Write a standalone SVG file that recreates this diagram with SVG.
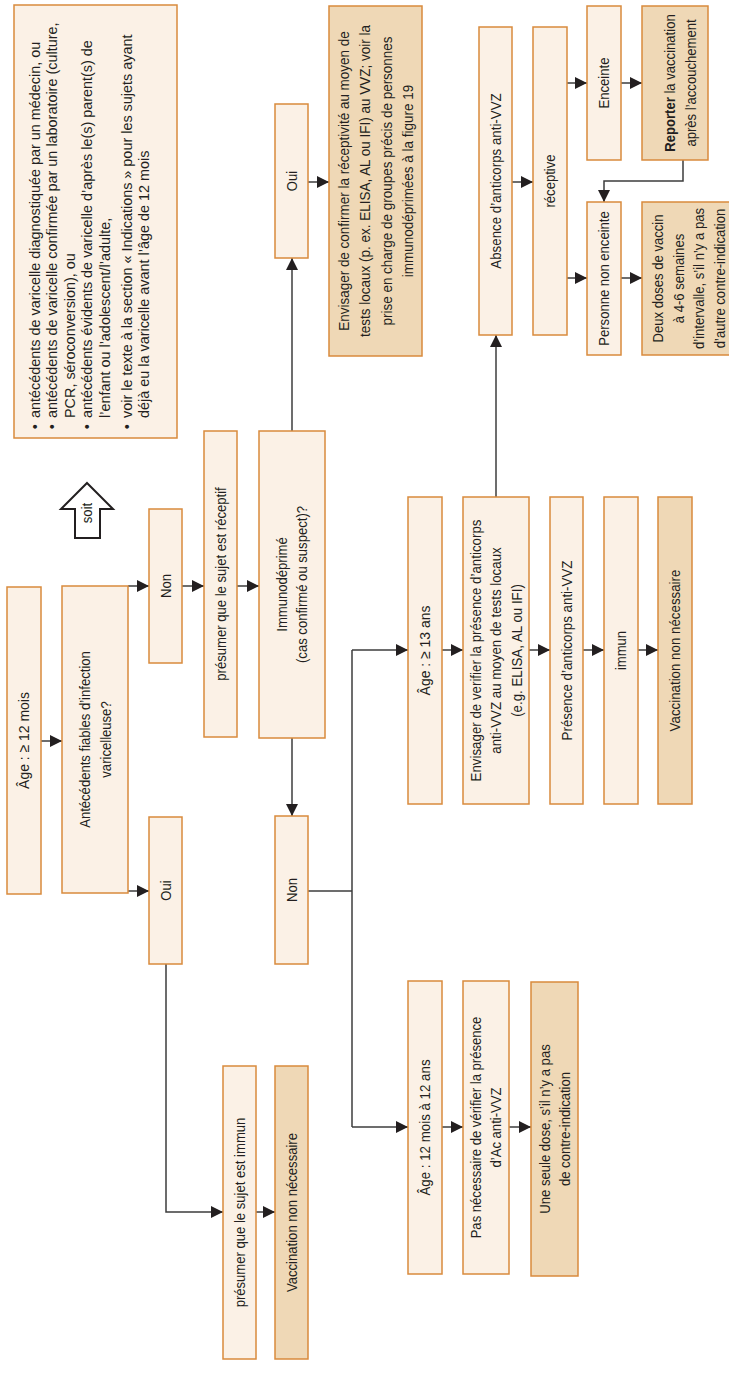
<svg xmlns="http://www.w3.org/2000/svg" width="729" height="1388" viewBox="0 0 729 1388">
<style>
.bl{fill:#FBF1E6;stroke:#D98A3D;stroke-width:1.5}
.bd{fill:#EFD8B6;stroke:#D98A3D;stroke-width:1.5}
.t{font-family:"Liberation Sans",Arial,sans-serif;font-size:15.5px;fill:#231F20;text-anchor:middle}
.n{font-family:"Liberation Sans",Arial,sans-serif;font-size:15.5px;fill:#231F20}
.c{fill:none;stroke:#3C3C3C;stroke-width:1.5}
.a{marker-end:url(#ah)}
</style>
<defs>
<marker id="ah" markerUnits="userSpaceOnUse" viewBox="0 0 12 12" markerWidth="12" markerHeight="12" refX="12" refY="6" orient="auto">
<path d="M0,0 L12,6 L0,12 z" fill="#231F20"/>
</marker>
</defs>
<rect width="729" height="1388" fill="#FFFFFF"/>

<g id="note">
<rect class="bl" x="14" y="5" width="163" height="433"/>
<g transform="translate(0,418) rotate(-90) scale(0.93,1)">
<text class="n" x="-12" y="40">•</text>
<text class="n" x="0" y="40">antécédents de varicelle diagnostiquée par un médecin, ou</text>
<text class="n" x="-12" y="57.5">•</text>
<text class="n" x="0" y="57.5">antécédents de varicelle confirmée par un laboratoire (culture,</text>
<text class="n" x="0" y="75">PCR, séroconversion), ou</text>
<text class="n" x="-12" y="92.5">•</text>
<text class="n" x="0" y="92.5">antécédents évidents de varicelle d’après le(s) parent(s) de</text>
<text class="n" x="0" y="110">l’enfant ou l’adolescent/l’adulte,</text>
<text class="n" x="-12" y="132">•</text>
<text class="n" x="0" y="132">voir le texte à la section « Indications » pour les sujets ayant</text>
<text class="n" x="0" y="149.5">déjà eu la varicelle avant l’âge de 12 mois</text>
</g>
</g>

<g id="soit">
<polygon points="87,483 113,509 100,509 100,538 75,538 75,509 61,509" fill="#FFFFFF" stroke="#231F20" stroke-width="2"/>
<text class="t" transform="translate(0,513) rotate(-90) scale(0.845,1)" x="0" y="92.5">soit</text>
</g>

<g id="connectors">
<line class="c a" x1="41" y1="741" x2="62" y2="741"/>
<line class="c a" x1="128" y1="586" x2="149" y2="586"/>
<line class="c a" x1="128" y1="891" x2="149" y2="891"/>
<line class="c a" x1="182" y1="586" x2="204" y2="586"/>
<line class="c a" x1="237" y1="586" x2="259" y2="586"/>
<line class="c a" x1="292" y1="431" x2="292" y2="258"/>
<line class="c a" x1="308" y1="182" x2="329" y2="182"/>
<line class="c a" x1="292" y1="738" x2="292" y2="816"/>
<line class="c" x1="308" y1="891" x2="352" y2="891"/>
<line class="c" x1="352" y1="650" x2="352" y2="1127"/>
<line class="c a" x1="352" y1="650" x2="408" y2="650"/>
<line class="c a" x1="352" y1="1127" x2="408" y2="1127"/>
<line class="c a" x1="442" y1="650" x2="463" y2="650"/>
<line class="c a" x1="529" y1="650" x2="550" y2="650"/>
<line class="c a" x1="583" y1="650" x2="604" y2="650"/>
<line class="c a" x1="638" y1="650" x2="658" y2="650"/>
<line class="c a" x1="496" y1="497" x2="496" y2="335"/>
<line class="c a" x1="512" y1="182" x2="533" y2="182"/>
<line class="c a" x1="567" y1="83" x2="587" y2="83"/>
<line class="c a" x1="621" y1="83" x2="642" y2="83"/>
<line class="c a" x1="567" y1="278" x2="587" y2="278"/>
<line class="c a" x1="621" y1="278" x2="642" y2="278"/>
<polyline class="c a" points="683,160 683,181 604,181 604,202"/>
<polyline class="c a" points="166,964 166,1212 223,1212"/>
<line class="c a" x1="256" y1="1212" x2="275" y2="1212"/>
<line class="c a" x1="442" y1="1127" x2="463" y2="1127"/>
<line class="c a" x1="509" y1="1127" x2="531" y2="1127"/>
</g>

<g id="age12mois">
<rect class="bl" x="7" y="587" width="34" height="307"/>
<text class="t" transform="translate(0,740.5) rotate(-90) scale(0.9,1)" x="0" y="29.5">Âge : ≥ 12 mois</text>
</g>
<g id="antecedents">
<rect class="bl" x="62" y="586" width="66" height="307"/>
<text class="t" transform="translate(0,739.5) rotate(-90) scale(0.845,1)" x="0" y="90">Antécédents fiables d’infection<tspan x="0" y="111">varicelleuse?</tspan></text>
</g>
<g id="non1">
<rect class="bl" x="149" y="509" width="33" height="154"/>
<text class="t" transform="translate(0,586) rotate(-90) scale(0.845,1)" x="0" y="171">Non</text>
</g>
<g id="oui1">
<rect class="bl" x="149" y="817" width="33" height="147"/>
<text class="t" transform="translate(0,890.5) rotate(-90) scale(0.845,1)" x="0" y="171">Oui</text>
</g>
<g id="presumer-receptif">
<rect class="bl" x="204" y="431" width="33" height="306"/>
<text class="t" transform="translate(0,584) rotate(-90) scale(0.845,1)" x="0" y="226">présumer que le sujet est réceptif</text>
</g>
<g id="immunodeprime">
<rect class="bl" x="259" y="431" width="66" height="307"/>
<text class="t" transform="translate(0,584.5) rotate(-90) scale(0.845,1)" x="0" y="287.5">Immunodéprimé<tspan x="0" y="307.5">(cas confirmé ou suspect)?</tspan></text>
</g>
<g id="oui2">
<rect class="bl" x="275" y="104" width="33" height="154"/>
<text class="t" transform="translate(0,181) rotate(-90) scale(0.845,1)" x="0" y="297">Oui</text>
</g>
<g id="envisager-confirmer">
<rect class="bd" x="329" y="6" width="93" height="350"/>
<text class="t" transform="translate(0,181) rotate(-90) scale(0.87,1)" x="0" y="348.75">Envisager de confirmer la réceptivité au moyen de<tspan x="0" y="370.25">tests locaux (p. ex. ELISA, AL ou IFI) au VVZ; voir la</tspan><tspan x="0" y="391.75">prise en charge de groupes précis de personnes</tspan><tspan x="0" y="413.25">immunodéprimées à la figure 19</tspan></text>
</g>
<g id="absence">
<rect class="bl" x="479" y="27" width="33" height="308"/>
<text class="t" transform="translate(0,181) rotate(-90) scale(0.86,1)" x="0" y="501">Absence d’anticorps anti-VVZ</text>
</g>
<g id="receptive">
<rect class="bl" x="533" y="27" width="34" height="308"/>
<text class="t" transform="translate(0,181) rotate(-90) scale(0.845,1)" x="0" y="555.5">réceptive</text>
</g>
<g id="enceinte">
<rect class="bl" x="587" y="6" width="34" height="154"/>
<text class="t" transform="translate(0,83) rotate(-90) scale(0.845,1)" x="0" y="609.5">Enceinte</text>
</g>
<g id="reporter">
<rect class="bd" x="642" y="6" width="66" height="154"/>
<text class="t" transform="translate(0,83) rotate(-90) scale(0.845,1)" x="0" y="675"><tspan font-weight="bold">Reporter</tspan> la vaccination<tspan x="0" y="696">après l’accouchement</tspan></text>
</g>
<g id="non-enceinte">
<rect class="bl" x="587" y="202" width="34" height="153"/>
<text class="t" transform="translate(0,278.5) rotate(-90) scale(0.845,1)" x="0" y="609.5">Personne non enceinte</text>
</g>
<g id="deux-doses">
<rect class="bd" x="642" y="202" width="100" height="153"/>
<text class="t" transform="translate(0,278.5) rotate(-90) scale(0.845,1)" x="0" y="663">Deux doses de vaccin<tspan x="0" y="684">à 4-6 semaines</tspan><tspan x="0" y="704.5">d’intervalle, s’il n’y a pas</tspan><tspan x="0" y="725">d’autre contre-indication</tspan></text>
</g>
<g id="non2">
<rect class="bl" x="275" y="816" width="33" height="148"/>
<text class="t" transform="translate(0,890) rotate(-90) scale(0.845,1)" x="0" y="297">Non</text>
</g>
<g id="presumer-immun">
<rect class="bl" x="223" y="1066" width="33" height="293"/>
<text class="t" transform="translate(0,1212.5) rotate(-90) scale(0.845,1)" x="0" y="245">présumer que le sujet est immun</text>
</g>
<g id="vaccination-non-1">
<rect class="bd" x="275" y="1066" width="33" height="293"/>
<text class="t" transform="translate(0,1212.5) rotate(-90) scale(0.845,1)" x="0" y="297">Vaccination non nécessaire</text>
</g>
<g id="age13">
<rect class="bl" x="408" y="497" width="34" height="307"/>
<text class="t" transform="translate(0,650.5) rotate(-90) scale(0.9,1)" x="0" y="430.5">Âge : ≥ 13 ans</text>
</g>
<g id="envisager-verifier">
<rect class="bl" x="463" y="497" width="66" height="307"/>
<text class="t" transform="translate(0,650.5) rotate(-90) scale(0.86,1)" x="0" y="481">Envisager de verifier la présence d’anticorps<tspan x="0" y="501.5">anti-VVZ au moyen de tests locaux</tspan><tspan x="0" y="522">(e.g. ELISA, AL ou IFI)</tspan></text>
</g>
<g id="presence">
<rect class="bl" x="550" y="497" width="33" height="307"/>
<text class="t" transform="translate(0,650.5) rotate(-90) scale(0.86,1)" x="0" y="572">Présence d’anticorps anti-VVZ</text>
</g>
<g id="immun">
<rect class="bl" x="604" y="497" width="34" height="307"/>
<text class="t" transform="translate(0,650.5) rotate(-90) scale(0.845,1)" x="0" y="626.5">immun</text>
</g>
<g id="vaccination-non-2">
<rect class="bd" x="658" y="497" width="34" height="307"/>
<text class="t" transform="translate(0,650.5) rotate(-90) scale(0.86,1)" x="0" y="680.5">Vaccination non nécessaire</text>
</g>
<g id="age12a">
<rect class="bl" x="408" y="981" width="34" height="293"/>
<text class="t" transform="translate(0,1127.5) rotate(-90) scale(0.86,1)" x="0" y="430.5">Âge : 12 mois à 12 ans</text>
</g>
<g id="pas-necessaire">
<rect class="bl" x="463" y="981" width="46" height="293"/>
<text class="t" transform="translate(0,1127.5) rotate(-90) scale(0.845,1)" x="0" y="481.5">Pas nécessaire de vérifier la présence<tspan x="0" y="501.5">d’Ac anti-VVZ</tspan></text>
</g>
<g id="une-seule-dose">
<rect class="bd" x="531" y="982" width="47" height="294"/>
<text class="t" transform="translate(0,1129) rotate(-90) scale(0.845,1)" x="0" y="550">Une seule dose, s’il n’y a pas<tspan x="0" y="570">de contre-indication</tspan></text>
</g>
</svg>
